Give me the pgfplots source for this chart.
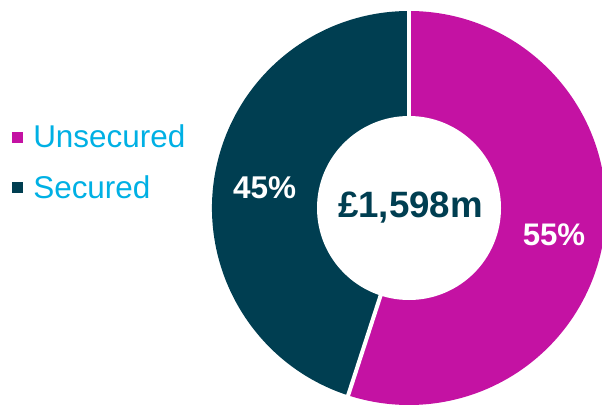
\documentclass[border=0pt]{standalone}
\usepackage{fontspec}
\setmainfont{Liberation Sans}
\usepackage{pgfplots}
\usepackage{pgfplotstable}
\pgfplotsset{compat=1.18}
\definecolor{unsec}{RGB}{196,18,163}
\definecolor{sec}{RGB}{0,62,81}
\definecolor{legtext}{RGB}{0,176,228}

\pgfplotstableread{
label value
Unsecured 55
Secured 45
}\piedata

\begin{document}
\begin{tikzpicture}
\pgfplotstablegetelem{0}{value}\of\piedata \pgfmathsetmacro\vA{\pgfplotsretval}
\pgfplotstablegetelem{1}{value}\of\piedata \pgfmathsetmacro\vB{\pgfplotsretval}
\pgfmathsetmacro\total{\vA+\vB}
\pgfmathsetmacro\frac{\vA/\total}
\pgfmathsetmacro\angEnd{90-360*\frac}
\useasboundingbox (0,0) rectangle (451.5pt,303pt);
\clip (0,0) rectangle (451.5pt,303pt);
\begin{axis}[
  at={(0,0)}, anchor=south west,
  x=0.75pt, y=0.75pt,
  xmin=0, xmax=602, ymin=0, ymax=404,
  hide axis, clip=false,
  legend image code/.code={\fill[#1] (0pt,-4.1pt) rectangle (8.25pt,4.1pt); \path (15.75pt,0pt);},
  legend cell align=left,
  legend style={draw=none, fill=none, at={(axis cs:12,241.5)}, anchor=west,
    inner sep=0pt, font=\fontsize{23.6}{28}\selectfont, text=legtext,
    row sep=19.5pt, nodes={inner sep=0pt}},
]
\fill[unsec] (axis cs:409,196) -- ++(90:147.75pt) arc[start angle=90,end angle=\angEnd,radius=147.75pt] -- cycle;
\fill[sec] (axis cs:409,196) -- ++(\angEnd:147.75pt) arc[start angle=\angEnd,end angle=-270,radius=147.75pt] -- cycle;
\draw[white,line width=3pt] (axis cs:409,196) -- ++(90:155pt);
\draw[white,line width=3pt] (axis cs:409,196) -- ++(\angEnd:155pt);
\fill[white] (axis cs:409,196) circle[radius=69pt];
\node[anchor=base,white,font=\bfseries\fontsize{23.6}{28}\selectfont] at (axis cs:264.5,206) {45\%};
\node[anchor=base,white,font=\bfseries\fontsize{23.4}{28}\selectfont] at (axis cs:554,159) {55\%};
\node[anchor=base,sec,font=\bfseries\fontsize{27.5}{32}\selectfont] at (axis cs:410.5,187) {£1,598m};
\addlegendimage{fill=unsec,draw=none}
\addlegendentry{Unsecured}
\addlegendimage{fill=sec,draw=none}
\addlegendentry{Secured}
\end{axis}
\end{tikzpicture}
\end{document}
